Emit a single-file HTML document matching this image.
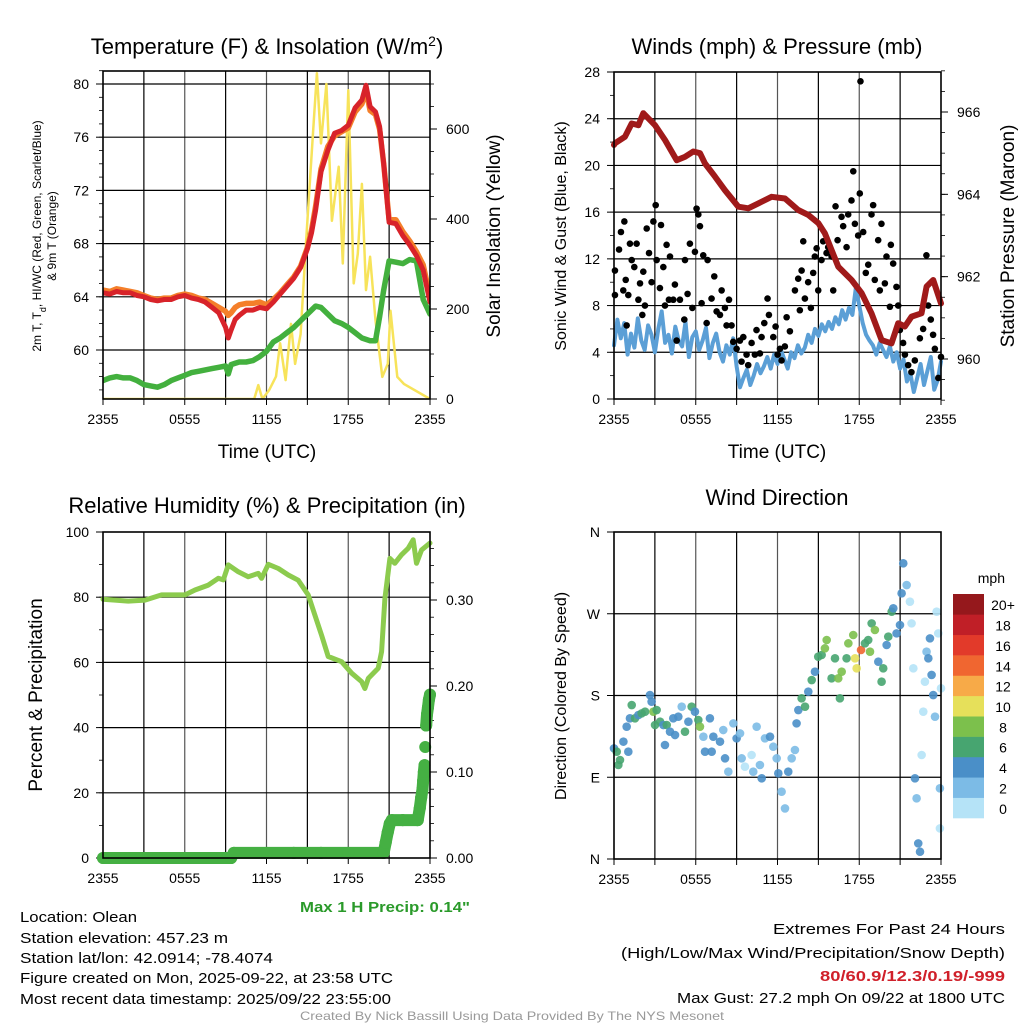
<!DOCTYPE html>
<html><head><meta charset="utf-8"><style>
html,body{margin:0;padding:0;background:#fff;}
svg{display:block;font-family:"Liberation Sans",sans-serif;}
</style></head><body>
<svg id="fig" width="1024" height="1024" viewBox="0 0 1024 1024" xmlns="http://www.w3.org/2000/svg">
<rect width="1024" height="1024" fill="#fff"/>
<g id="layer"></g>
<text x="267" y="54" text-anchor="middle" font-size="22">Temperature (F) &amp; Insolation (W/m<tspan baseline-shift="super" font-size="14">2</tspan>)</text>
<text x="777" y="54" text-anchor="middle" font-size="22">Winds (mph) &amp; Pressure (mb)</text>
<text x="267" y="513" text-anchor="middle" font-size="22">Relative Humidity (%) &amp; Precipitation (in)</text>
<text x="777" y="505" text-anchor="middle" font-size="22">Wind Direction</text>
<text transform="translate(41,236) rotate(-90)" text-anchor="middle" font-size="12">2m T, T<tspan baseline-shift="sub" font-size="9">d</tspan>, HI/WC (Red, Green, Scarlet/Blue)</text>
<text transform="translate(56,236) rotate(-90)" text-anchor="middle" font-size="12">&amp; 9m T (Orange)</text>
<text transform="translate(500,236) rotate(-90)" text-anchor="middle" font-size="19">Solar Insolation (Yellow)</text>
<text x="267" y="458" text-anchor="middle" font-size="19">Time (UTC)</text>
<text x="777" y="458" text-anchor="middle" font-size="19">Time (UTC)</text>
<text transform="translate(566,236) rotate(-90)" text-anchor="middle" font-size="16">Sonic Wind &amp; Gust (Blue, Black)</text>
<text transform="translate(1014,236) rotate(-90)" text-anchor="middle" font-size="19">Station Pressure (Maroon)</text>
<text transform="translate(42,695) rotate(-90)" text-anchor="middle" font-size="19">Percent &amp; Precipitation</text>
<text transform="translate(566,696) rotate(-90)" text-anchor="middle" font-size="16">Direction (Colored By Speed)</text>
<text x="385" y="912" text-anchor="middle" font-size="15" font-weight="bold" fill="#2a9a2a" textLength="170" lengthAdjust="spacingAndGlyphs">Max 1 H Precip: 0.14"</text>
<text x="1005" y="583" text-anchor="end" font-size="14">mph</text>
<g font-size="15">
<text x="20" y="922" textLength="117" lengthAdjust="spacingAndGlyphs">Location: Olean</text>
<text x="20" y="943" textLength="208" lengthAdjust="spacingAndGlyphs">Station elevation: 457.23 m</text>
<text x="20" y="963" textLength="253" lengthAdjust="spacingAndGlyphs">Station lat/lon: 42.0914; -78.4074</text>
<text x="20" y="983" textLength="373" lengthAdjust="spacingAndGlyphs">Figure created on Mon, 2025-09-22, at 23:58 UTC</text>
<text x="20" y="1004" textLength="371" lengthAdjust="spacingAndGlyphs">Most recent data timestamp: 2025/09/22 23:55:00</text>
</g>
<g font-size="15" text-anchor="end">
<text x="1005" y="934" textLength="232" lengthAdjust="spacingAndGlyphs">Extremes For Past 24 Hours</text>
<text x="1005" y="958" textLength="384" lengthAdjust="spacingAndGlyphs">(High/Low/Max Wind/Precipitation/Snow Depth)</text>
<text x="1005" y="981" font-weight="bold" fill="#d0202a" textLength="185" lengthAdjust="spacingAndGlyphs">80/60.9/12.3/0.19/-999</text>
<text x="1005" y="1003" textLength="328" lengthAdjust="spacingAndGlyphs">Max Gust: 27.2 mph On 09/22 at 1800 UTC</text>
</g>
<text x="512" y="1020" text-anchor="middle" font-size="12" fill="#999" textLength="424" lengthAdjust="spacingAndGlyphs">Created By Nick Bassill Using Data Provided By The NYS Mesonet</text>
</svg>
<script>
// ---- Data ----
const xTickLabels = ["2355","0555","1155","1755","2355"];
const tempTicks = [60,64,68,72,76,80];
const solarTicks = [0,200,400,600];
const windTicks = [0,4,8,12,16,20,24,28];
const presTicks = [960,962,964,966];
const rhTicks = [0,20,40,60,80,100];
const precipTicks = [0,0.1,0.2,0.3];
const dirTicks = [0,90,180,270,360];
const dirLabels = ["N","E","S","W","N"];
const cbLabels = ["0","2","4","6","8","10","12","14","16","18","20+"];
const cbColors = ["#b5e3f7","#7cbbe6","#4a8fc8","#47a570","#7cc04c","#e6e05a","#f7aa48","#f06630","#e23a2a","#c01f27","#95181c"];

const tHours = [0,0.5,1,1.5,2,2.5,3,3.5,4,4.5,5,5.5,6,6.5,7,7.5,8,8.5,9,9.2,9.4,9.7,10,10.5,11,11.5,12,12.5,13,13.5,14,14.5,15,15.3,15.6,16,16.5,17,17.5,18,18.5,19,19.3,19.6,20,20.3,20.6,21,21.5,22,22.5,23,23.5,24];
const tempRed = [64.3,64.2,64.4,64.3,64.3,64.1,64.0,63.8,63.7,63.8,63.8,64.0,64.1,63.9,63.8,63.6,63.2,62.8,61.7,60.9,61.5,62.3,62.6,63.0,63.0,63.2,63.1,63.6,64.2,64.8,65.4,66.2,67.6,68.8,70.5,73.4,75.0,76.3,76.5,76.9,78.2,78.8,79.9,78.3,77.9,76.8,74.0,69.6,69.5,68.6,67.9,67.1,66.0,63.6];
const temp9m = [64.5,64.4,64.6,64.5,64.4,64.3,64.1,63.9,63.8,63.9,63.9,64.1,64.2,64.1,63.9,63.8,63.5,63.2,62.9,62.6,62.8,63.2,63.4,63.5,63.5,63.6,63.4,63.8,64.3,64.9,65.5,66.3,67.7,69.0,70.8,73.6,75.3,76.1,76.4,76.7,77.9,78.5,79.5,78.0,77.7,76.6,74.0,69.8,69.8,68.9,68.2,67.4,66.4,64.0];
const dewGreen = [57.7,57.9,58.0,57.9,57.9,57.7,57.4,57.3,57.2,57.4,57.7,57.9,58.1,58.3,58.4,58.5,58.6,58.7,58.8,58.2,58.9,59.0,59.1,59.1,59.2,59.5,59.9,60.6,60.9,61.3,61.7,62.2,62.7,63.0,63.3,63.2,62.7,62.2,62.0,61.7,61.3,60.9,60.8,60.7,60.7,62.5,64.5,66.7,66.6,66.5,66.8,66.7,63.8,62.7];

const sHours = [0,11.1,11.4,11.7,12.2,12.7,13.0,13.4,13.8,14.1,14.5,14.9,15.4,15.7,16.0,16.4,16.8,17.3,17.6,18.0,18.4,18.7,19.0,19.3,19.6,20.0,20.5,20.9,21.1,21.6,22.1,24];
const solar = [0,0,31,0,20,50,124,42,167,78,144,347,584,724,568,700,396,516,301,686,257,323,478,242,316,175,49,78,196,49,33,0];

const wHours = [0,0.07,0.81,1.3,1.79,2.15,3.01,3.74,4.6,5.2,5.82,6.31,6.68,7.41,8.14,9.12,9.86,10.59,11.57,12.55,13.52,14.26,15.0,15.48,16.46,17.44,18.17,18.9,19.64,20.37,20.86,21.35,21.84,22.57,22.94,23.43,24];
const pressure = [965.2,965.24,965.40,965.72,965.68,965.97,965.68,965.32,964.83,964.91,965.04,965.00,964.75,964.43,964.10,963.70,963.66,963.78,963.94,963.90,963.62,963.50,963.30,963.05,962.24,961.92,961.60,961.11,960.46,960.38,960.87,960.79,961.03,961.11,961.76,961.92,961.35];

const speed = [4.6,6.8,5.2,6.5,3.8,5.6,4.4,6.9,5.0,4.2,6.3,5.5,4.0,6.0,7.5,4.8,
5.5,3.9,6.2,5.0,4.5,6.6,3.6,5.3,5.8,4.2,5.0,6.1,3.5,4.8,5.6,4.0,
3.2,4.6,3.8,5.2,2.8,1.0,1.8,2.5,1.2,2.0,3.0,2.2,2.8,3.6,2.6,3.8,
3.0,4.2,3.4,2.6,4.0,3.5,4.6,3.9,4.4,5.5,4.8,6.0,5.4,6.4,5.8,6.6,
6.0,7.0,6.4,7.6,6.8,7.8,7.2,9.5,8.0,6.5,5.5,5.0,4.6,3.8,4.8,4.2,
3.6,4.5,3.2,4.0,2.6,3.4,1.5,2.2,0.6,1.8,3.0,1.2,2.4,3.6,0.8,1.6,3.2];
const speedStepHours = 0.25;

const gHours = [0.07,0.07,0.37,0.51,0.76,0.68,0.86,0.93,1.05,1.17,1.30,1.49,1.66,1.79,1.91,2.08,2.15,2.27,2.40,2.57,2.76,2.89,3.06,3.13,3.37,3.45,3.62,3.74,3.86,4.03,4.11,4.35,4.47,4.60,4.84,5.16,5.21,5.40,5.57,5.75,5.94,6.06,6.19,6.31,6.43,6.55,6.80,6.87,7.16,7.36,7.53,7.78,7.90,8.14,8.26,8.44,8.63,8.75,9.00,9.24,9.36,9.49,9.73,9.85,10.10,10.34,10.46,10.71,10.83,11.03,11.27,11.37,11.69,11.86,12.01,12.18,12.30,12.54,12.67,12.91,13.28,13.52,13.64,13.77,13.89,14.01,14.25,14.45,14.62,14.74,14.87,14.99,15.23,15.35,15.60,15.72,15.97,16.09,16.26,16.41,16.70,16.82,17.07,17.19,17.43,17.56,17.68,17.92,18.04,18.09,18.29,18.48,18.66,18.90,19.02,19.14,19.39,19.51,19.63,19.88,20.00,20.25,20.32,20.49,20.73,20.86,20.98,21.22,21.35,21.59,21.83,22.08,22.45,22.69,22.93,23.06,23.25,23.42,23.55,23.80,24.0];
const gusts = [11.0,8.9,12.8,14.3,15.2,9.3,10.2,6.3,8.9,13.3,11.9,11.3,13.3,8.5,9.9,7.2,10.9,8.0,14.6,12.5,10.0,15.2,16.6,11.9,9.5,14.9,11.3,8.0,13.2,8.5,12.2,8.5,9.8,5.0,8.5,6.8,11.9,9.0,13.3,7.8,12.6,16.3,15.8,14.8,8.2,12.3,6.5,11.9,8.6,10.5,7.5,7.2,9.3,7.8,6.3,8.5,6.3,4.9,4.3,5.0,3.2,5.3,3.8,2.9,4.8,3.8,5.9,3.9,5.3,6.5,8.6,7.2,5.3,6.2,3.8,4.3,3.3,4.5,7.0,5.8,9.3,10.3,7.6,11.0,13.5,8.6,10.0,7.8,10.8,12.2,12.9,9.3,11.9,13.5,12.5,13.0,12.2,9.3,16.5,13.6,15.6,14.8,13.0,15.8,17.0,19.5,15.0,14.0,17.6,27.2,14.3,10.8,11.5,15.8,16.6,10.2,13.6,9.3,15.0,9.9,12.2,7.9,13.2,11.6,9.6,8.0,5.9,4.8,3.8,2.9,2.3,3.3,5.2,6.0,12.3,8.0,6.8,5.5,4.3,1.8,3.6];

const rhHours = [0,0.88,1.86,3.08,4.3,6.02,6.75,7.73,8.46,8.83,9.2,9.93,10.66,11.4,11.64,12.13,12.87,13.6,14.33,15.06,15.55,16.04,16.53,17.51,18.25,18.98,19.22,19.47,20.2,20.45,20.69,21.06,21.42,21.91,22.4,22.77,23.01,23.38,24];
const rh = [79.4,79.1,78.8,79.1,80.7,80.7,82.2,83.7,85.8,85.3,89.9,87.8,86.3,87.3,85.8,90.1,88.8,86.8,85.2,80.7,74.5,68.4,61.8,60.2,56.7,54.1,52.0,55.1,58.2,63.3,79.6,91.9,90.4,93.0,95.0,97.6,90.4,94.5,96.6];

const pHours = [0,2,4,6,8,9.4,9.6,12,14,16,18,20.6,20.75,20.9,21.05,21.2,22,23.1,23.25,23.35,23.45,23.5,23.55,23.6,23.65,23.72,23.78,23.85,23.92,24];
const precip = [0,0,0,0,0,0,0.006,0.006,0.006,0.006,0.006,0.006,0.018,0.03,0.04,0.044,0.044,0.044,0.058,0.07,0.08,0.09,0.1,0.108,0.129,0.154,0.167,0.175,0.184,0.19];

const dHours = [0,0.20,0.44,0.32,0.69,1.05,0.93,1.17,1.30,1.54,1.79,2.03,2.28,2.64,2.76,2.89,3.13,3.01,3.38,3.62,3.87,3.74,4.11,4.35,4.48,4.72,4.97,5.21,5.46,5.70,5.94,6.19,6.31,6.56,6.68,7.04,7.29,7.17,7.78,8.02,8.15,8.39,8.76,9.00,9.25,9.37,9.61,10.10,10.22,10.47,10.71,10.84,11.08,11.45,11.69,11.94,12.06,12.30,12.55,12.79,13.04,13.28,13.40,13.53,13.77,14.02,14.26,14.51,14.75,14.99,15.24,15.48,15.61,15.97,16.22,16.46,16.71,16.58,17.07,17.20,17.56,17.69,17.81,18.13,18.42,18.66,18.79,18.91,19.15,19.40,19.64,19.76,20.01,20.13,20.38,20.50,20.74,20.99,21.11,21.23,21.48,21.72,21.84,21.97,22.58,22.70,22.82,22.94,23.07,23.19,23.31,23.43,23.56,23.68,23.80,22.09,22.21,22.33,22.46,23.92,23.92,24.0];
const dirDeg = [121.8,118.1,109.0,103.5,129.2,118.1,145.7,154.9,169.5,154.9,158.5,160.3,162.2,180.5,173.2,162.2,164.0,147.5,151.2,147.5,147.5,125.5,140.2,154.9,136.5,156.7,167.7,140.2,151.2,167.7,162.2,153.0,145.7,134.7,118.1,154.9,134.7,118.1,129.2,142.0,110.8,96.1,149.3,132.8,138.3,110.8,101.6,114.5,96.1,145.7,103.5,88.8,132.8,134.7,123.6,110.8,94.3,74.1,55.7,96.1,110.8,120.0,149.3,164.0,176.9,167.7,184.2,197.0,206.2,222.7,224.6,231.9,241.1,198.9,220.9,198.9,206.2,176.9,220.9,237.4,246.6,220.9,209.9,230.1,237.4,241.1,228.2,259.4,252.1,217.2,195.2,209.9,235.6,244.8,272.3,276.0,248.4,257.6,292.5,325.5,301.6,283.3,259.4,209.9,114.5,162.2,195.2,228.2,220.9,242.9,202.6,180.5,156.7,272.3,248.4,88.8,66.8,17.2,8.0,77.8,33.7,187.9];
const dirSpeed = [4,6,6,6,4,4,4,4,6,6,4,6,6,4,4,8,6,6,6,4,6,4,4,4,4,4,2,6,4,6,4,6,8,2,4,4,4,4,4,2,4,2,2,4,2,2,0,0,2,2,2,4,2,4,2,2,4,2,2,4,2,2,4,4,6,6,4,6,4,6,6,8,8,6,6,8,8,6,6,8,8,10,10,14,6,6,8,6,8,4,6,6,4,6,6,4,4,4,4,4,2,0,0,0,0,0,0,2,4,4,4,4,2,0,0,4,2,4,4,2,0,0];

// ---- helpers ----
const NS = "http://www.w3.org/2000/svg";
const layer = document.getElementById('layer');
function mk(tag, attrs, parent){ const e=document.createElementNS(NS,tag); for(const k in attrs) e.setAttribute(k,attrs[k]); (parent||layer).appendChild(e); return e; }
function pathFrom(xs, ys){ let d=''; for(let i=0;i<xs.length;i++) d+=(i?'L':'M')+xs[i].toFixed(1)+' '+ys[i].toFixed(1); return d; }
function lin(d0,d1,r0,r1){ return v=>r0+(v-d0)/(d1-d0)*(r1-r0); }

function frame(x0,x1,y0,y1,name){
  const g = mk('g',{});
  
  
  const X = lin(0,24,x0,x1);
  for(let h=3; h<24; h+=3){
    const l = mk('line',{x1:X(h),x2:X(h),y1:y0,y2:y1,stroke:(h%6? '#000':'#555'),'stroke-width':1.2},g);
    
    
  }
  for(let h=0; h<=24; h+=3){
    const t = mk('line',{x1:X(h),x2:X(h),y1:y1,y2:y1+6,stroke:'#000','stroke-width':1},g);
    
    
  }
  xTickLabels.forEach((lab,i)=>{
    const t = mk('text',{x:X(i*6),y:y1+25,'text-anchor':'middle','font-size':14},g);
    t.textContent = lab;
    
    
  });
  return {X, g};
}
function hgrid(g,x0,x1,ys){ ys.forEach(y=>{ const l=mk('line',{x1:x0,x2:x1,y1:y,y2:y,stroke:'#000','stroke-width':1.2},g);   }); }
function yAxis(g,x,vals,Y,labels,side,minorStep,dMin,dMax){
  vals.forEach((v,i)=>{
    const y=Y(v);
    const t=mk('line',{x1:x,x2:x+(side<0?-7:7),y1:y,y2:y,stroke:'#000','stroke-width':1},g);
    
    
    const tx=mk('text',{x:x+(side<0?-14:16),y:y+5,'text-anchor':side<0?'end':'start','font-size':14},g);
    tx.textContent=labels[i];
    
    
  });
  if(minorStep){ for(let v=dMin; v<=dMax+1e-9; v+=minorStep){ const y=Y(v); const m=mk('line',{x1:x,x2:x+(side<0?-4:4),y1:y,y2:y,stroke:'#000','stroke-width':0.8},g);   } }
}
function box(g,x0,x1,y0,y1){ const r=mk('rect',{x:x0,y:y0,width:x1-x0,height:y1-y0,fill:'none',stroke:'#000','stroke-width':1.6},g);   }
function line(g,xs,ys,color,w,name){ const p=mk('path',{d:pathFrom(xs,ys),fill:'none',stroke:color,'stroke-width':w,'stroke-linejoin':'round','stroke-linecap':'round'},g);   return p; }

// ---- Panel 1: temperature ----
(function(){
  const x0=103,x1=430,y0=71,y1=399;
  const {X,g}=frame(x0,x1,y0,y1,'temperature');
  const T=lin(80,60,84,350), S=lin(0,600,399,129);
  hgrid(g,x0,x1,tempTicks.map(T));
  yAxis(g,x0,tempTicks,T,tempTicks.map(String),-1,1,57,81);
  yAxis(g,x1,solarTicks,S,solarTicks.map(String),1,50,0,700);
  const c=mk('g',{'clip-path':'url(#c1)'},g);
  const cp=mk('clipPath',{id:'c1'}); mk('rect',{x:x0,y:y0-12,width:x1-x0,height:y1-y0+12},cp);
  line(c,dHoursSafe(sHours).map(X),solar.map(S),'#f7e35a',2.5,'solar-insolation-line');
  line(c,tHours.map(X),dewGreen.map(T),'#43b03e',5.5,'dewpoint-line');
  line(c,tHours.map(X),temp9m.map(T),'#f47f2a',5.5,'temperature-9m-line');
  line(c,tHours.map(X),tempRed.map(T),'#d8232a',5,'temperature-2m-line');
  box(g,x0,x1,y0,y1);
})();
function dHoursSafe(a){return a;}

// ---- Panel 2: winds ----
(function(){
  const x0=614,x1=941,y0=72,y1=399;
  const {X,g}=frame(x0,x1,y0,y1,'winds');
  const V=lin(0,28,399,72), P=lin(960,966,359,112);
  hgrid(g,x0,x1,windTicks.slice(1,7).map(V));
  yAxis(g,x0,windTicks,V,windTicks.map(String),-1,2,0,28);
  yAxis(g,x1,presTicks,P,presTicks.map(String),1,0.5,959,967);
  const c=mk('g',{},g);
  line(c,speed.map((v,i)=>X(i*speedStepHours)),speed.map(V),'#5b9fd6',4,'wind-speed-line');
  gusts.forEach((v,i)=>{ const d=mk('circle',{cx:X(gHours[i]),cy:V(v),r:3.3,fill:'#000'},c);   });
  line(c,wHours.map(X),pressure.map(P),'#a01a1a',6,'pressure-line');
  box(g,x0,x1,y0,y1);
})();

// ---- Panel 3: humidity ----
(function(){
  const x0=103,x1=430,y0=532,y1=858;
  const {X,g}=frame(x0,x1,y0,y1,'humidity');
  const R=lin(0,100,858,532), Pp=lin(0,0.3,858,600);
  hgrid(g,x0,x1,rhTicks.slice(1,5).map(R));
  yAxis(g,x0,rhTicks,R,rhTicks.map(String),-1,10,0,100);
  yAxis(g,x1,precipTicks,Pp,precipTicks.map(v=>v.toFixed(2)),1,0.02,0,0.37);
  line(g,rhHours.map(X),rh.map(R),'#8ccb4e',5,'relative-humidity-line');
  const pg=mk('g',{},g);
  
  
  for(let i=1;i<precip.length;i++){
    if(precip[i]-precip[i-1]<0.015){ const s=mk('line',{x1:X(pHours[i-1]),y1:Pp(precip[i-1]),x2:X(pHours[i]),y2:Pp(precip[i]),stroke:'#45b043','stroke-width':12,'stroke-linecap':'round'},pg);   }
  }
  precip.forEach((v,i)=>{ const d=mk('circle',{cx:X(pHours[i]),cy:Pp(v),r:6,fill:'#45b043'},pg);   });
  box(g,x0,x1,y0,y1);
})();

// ---- Panel 4: wind direction ----
(function(){
  const x0=614,x1=941,y0=532,y1=859;
  const {X,g}=frame(x0,x1,y0,y1,'direction');
  const D=lin(0,360,859,532);
  hgrid(g,x0,x1,dirTicks.slice(1,4).map(D));
  yAxis(g,x0,dirTicks,D,dirLabels,-1,0,0,0);
  dirDeg.forEach((v,i)=>{ const bin=Math.min(10,Math.floor(dirSpeed[i]/2)); const d=mk('circle',{cx:X(dHours[i]),cy:D(v),r:4.3,fill:cbColors[bin],'fill-opacity':0.9},g);   });
  box(g,x0,x1,y0,y1);
  const cb=mk('g',{});
  
  
  const h=224/11;
  cbColors.forEach((col,i)=>{
    const y=818-(i+1)*h;
    const r=mk('rect',{x:953,y:y,width:31,height:h+0.3,fill:col},cb);
    
    
    const t=mk('text',{x:1003,y:y+h/2+6,'text-anchor':'middle','font-size':14},cb);
    t.textContent=cbLabels[i];
    
    
  });
})();
</script>
</body></html>
